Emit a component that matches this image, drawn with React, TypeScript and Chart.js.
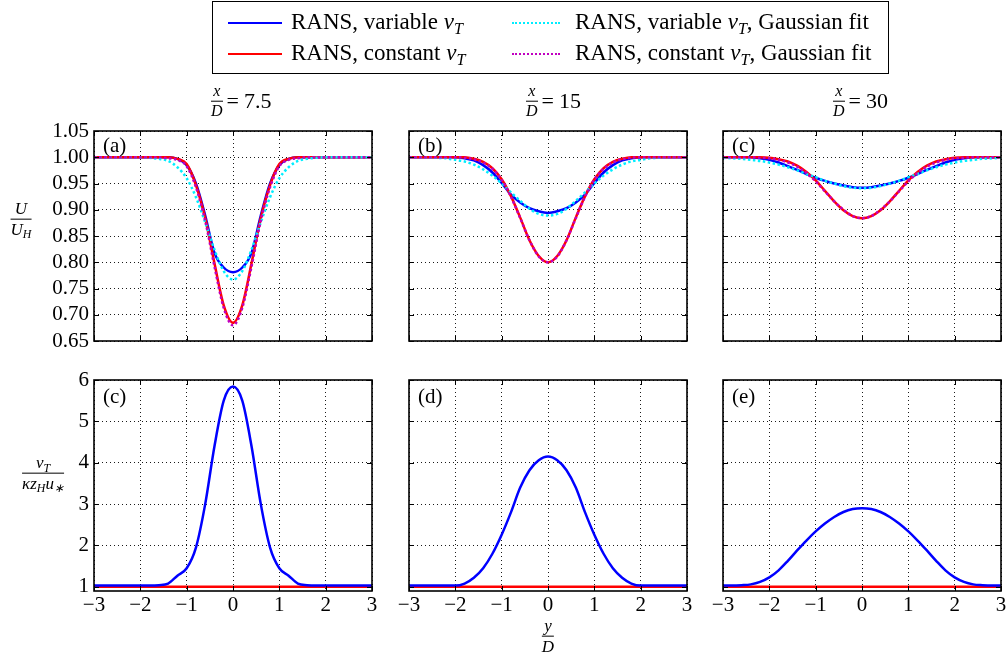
import React, { useEffect, useRef } from 'react';
import { Chart, registerables } from 'chart.js';

Chart.register(...registerables);

// ---------- data ----------
const Y_POS = [-3.0, -2.8, -2.6, -2.4, -2.2, -2.0, -1.8, -1.6, -1.4, -1.2, -1.0, -0.8, -0.6, -0.4, -0.2, 0.0,
  0.2, 0.4, 0.6, 0.8, 1.0, 1.2, 1.4, 1.6, 1.8, 2.0, 2.2, 2.4, 2.6, 2.8, 3.0];

const X_TICKS = [-3, -2, -1, 0, 1, 2, 3];
const U_TICKS = [0.65, 0.70, 0.75, 0.80, 0.85, 0.90, 0.95, 1.00, 1.05];
const NU_TICKS = [1, 2, 3, 4, 5, 6];

// x/D = 7.5
const U_VAR_75 = [1, 1, 1, 1, 1, 1, 1, 1, 1, 0.997, 0.985, 0.950, 0.889, 0.818, 0.790, 0.781, 0.790, 0.818, 0.889, 0.950, 0.985, 0.997, 1, 1, 1, 1, 1, 1, 1, 1, 1];
const U_CONST_75 = [1, 1, 1, 1, 1, 1, 1, 1, 1, 0.997, 0.987, 0.947, 0.884, 0.798, 0.718, 0.685, 0.718, 0.798, 0.884, 0.947, 0.987, 0.997, 1, 1, 1, 1, 1, 1, 1, 1, 1];
const U_VAR_FIT_75 = [1, 1, 1, 1, 1, 1, 0.999, 0.997, 0.993, 0.981, 0.960, 0.924, 0.876, 0.824, 0.783, 0.767, 0.783, 0.824, 0.876, 0.924, 0.960, 0.981, 0.993, 0.997, 0.999, 1, 1, 1, 1, 1, 1];
const U_CONST_FIT_75 = [1, 1, 1, 1, 1, 1, 1, 1, 0.998, 0.995, 0.983, 0.943, 0.879, 0.792, 0.713, 0.680, 0.713, 0.792, 0.879, 0.943, 0.983, 0.995, 0.998, 1, 1, 1, 1, 1, 1, 1, 1];

// x/D = 15
const U_VAR_15 = [1, 1, 1, 1, 1, 1, 0.998, 0.994, 0.985, 0.971, 0.951, 0.929, 0.914, 0.903, 0.897, 0.894, 0.897, 0.903, 0.914, 0.929, 0.951, 0.971, 0.985, 0.994, 0.998, 1, 1, 1, 1, 1, 1];
const U_CONST_15 = [1, 1, 1, 1, 1, 1, 1, 0.997, 0.991, 0.979, 0.958, 0.926, 0.885, 0.842, 0.812, 0.800, 0.812, 0.842, 0.885, 0.926, 0.958, 0.979, 0.991, 0.997, 1, 1, 1, 1, 1, 1, 1];
const U_VAR_FIT_15 = [1, 1, 1, 0.999, 0.998, 0.995, 0.992, 0.986, 0.977, 0.965, 0.950, 0.933, 0.917, 0.902, 0.892, 0.889, 0.892, 0.902, 0.917, 0.933, 0.950, 0.965, 0.977, 0.986, 0.992, 0.995, 0.998, 0.999, 1, 1, 1];
const U_CONST_FIT_15 = [1, 1, 1, 1, 1, 1, 0.999, 0.996, 0.990, 0.978, 0.957, 0.925, 0.884, 0.842, 0.811, 0.800, 0.811, 0.842, 0.884, 0.925, 0.957, 0.978, 0.990, 0.996, 0.999, 1, 1, 1, 1, 1, 1];

// x/D = 30
const U_VAR_30 = [1, 1, 1, 1, 0.998, 0.995, 0.990, 0.983, 0.976, 0.968, 0.961, 0.955, 0.950, 0.946, 0.943, 0.942, 0.943, 0.946, 0.950, 0.955, 0.961, 0.968, 0.976, 0.983, 0.990, 0.995, 0.998, 1, 1, 1, 1];
const U_CONST_30 = [1, 1, 1, 1, 1, 0.999, 0.996, 0.992, 0.984, 0.972, 0.956, 0.936, 0.916, 0.899, 0.888, 0.884, 0.888, 0.899, 0.916, 0.936, 0.956, 0.972, 0.984, 0.992, 0.996, 0.999, 1, 1, 1, 1, 1];
const U_VAR_FIT_30 = [0.999, 0.998, 0.997, 0.995, 0.993, 0.990, 0.986, 0.981, 0.975, 0.968, 0.962, 0.955, 0.950, 0.945, 0.942, 0.941, 0.942, 0.945, 0.950, 0.955, 0.962, 0.968, 0.975, 0.981, 0.986, 0.990, 0.993, 0.995, 0.997, 0.998, 0.999];
const U_CONST_FIT_30 = [1, 1, 1, 1, 0.999, 0.998, 0.995, 0.990, 0.982, 0.970, 0.954, 0.935, 0.916, 0.900, 0.888, 0.884, 0.888, 0.900, 0.916, 0.935, 0.954, 0.970, 0.982, 0.990, 0.995, 0.998, 0.999, 1, 1, 1, 1];

// eddy viscosity
const NU_VAR_75 = [1.03, 1.03, 1.03, 1.03, 1.03, 1.03, 1.03, 1.04, 1.08, 1.27, 1.45, 1.95, 3.00, 4.40, 5.50, 5.84, 5.50, 4.40, 3.00, 1.95, 1.45, 1.27, 1.08, 1.04, 1.03, 1.03, 1.03, 1.03, 1.03, 1.03, 1.03];
const NU_VAR_15 = [1.03, 1.03, 1.03, 1.03, 1.03, 1.03, 1.08, 1.22, 1.45, 1.80, 2.26, 2.80, 3.40, 3.82, 4.06, 4.15, 4.06, 3.82, 3.40, 2.80, 2.26, 1.80, 1.45, 1.22, 1.08, 1.03, 1.03, 1.03, 1.03, 1.03, 1.03];
const NU_VAR_30 = [1.03, 1.03, 1.04, 1.06, 1.12, 1.23, 1.40, 1.63, 1.88, 2.12, 2.34, 2.53, 2.69, 2.81, 2.88, 2.90, 2.88, 2.81, 2.69, 2.53, 2.34, 2.12, 1.88, 1.63, 1.40, 1.23, 1.12, 1.06, 1.04, 1.03, 1.03];
const NU_CONST = [1, 1, 1, 1, 1, 1, 1, 1, 1, 1, 1, 1, 1, 1, 1, 1, 1, 1, 1, 1, 1, 1, 1, 1, 1, 1, 1, 1, 1, 1, 1];

// ---------- styles ----------
const BLUE = '#0000ff';
const RED = '#ff0000';
const CYAN = '#00eeff';
const MAGENTA = '#c000c0';
const FONT = "'Liberation Serif', 'Times New Roman', serif";

type Series = { values: number[]; color: string; dash: number[]; order: number };

const framePlugin = {
  id: 'frame',
  afterDraw(chart: any) {
    const { ctx, chartArea: a, scales } = chart;
    const L = 5;
    ctx.save();
    ctx.setLineDash([]);
    ctx.strokeStyle = '#000';
    ctx.lineWidth = 1;
    ctx.beginPath();
    for (const t of scales.x.ticks) {
      const px = Math.round(scales.x.getPixelForValue(t.value)) + 0.5;
      ctx.moveTo(px, a.bottom);
      ctx.lineTo(px, a.bottom - L);
      ctx.moveTo(px, a.top);
      ctx.lineTo(px, a.top + L);
    }
    for (const t of scales.y.ticks) {
      const py = Math.round(scales.y.getPixelForValue(t.value)) + 0.5;
      ctx.moveTo(a.left, py);
      ctx.lineTo(a.left + L, py);
      ctx.moveTo(a.right, py);
      ctx.lineTo(a.right - L, py);
    }
    ctx.stroke();
    ctx.lineWidth = 1.6;
    ctx.strokeRect(a.left, a.top, a.right - a.left, a.bottom - a.top);
    ctx.restore();
  },
};

const fmtX = (v: number) => (v < 0 ? '\u2212' + Math.abs(v) : String(v));

type PanelProps = {
  plotLeft: number;
  plotTop: number;
  plotW: number;
  plotH: number;
  showY: boolean;
  showX: boolean;
  yMin: number;
  yMax: number;
  yTicks: number[];
  yFmt: (v: number) => string;
  series: Series[];
};

function Panel(p: PanelProps) {
  const ref = useRef<HTMLCanvasElement>(null);
  const PADL = 14, PADT = 20, PADR = 14, PADB = 20;
  const YW = p.showY ? 62 : 0;
  const XH = p.showX ? 30 : 0;
  const cw = PADL + YW + p.plotW + PADR;
  const chh = PADT + p.plotH + XH + PADB;

  useEffect(() => {
    if (!ref.current) return;
    const tickFont = { family: FONT, size: 21 };
    const chart = new Chart(ref.current, {
      type: 'line',
      data: {
        datasets: p.series.map((s) => ({
          data: Y_POS.map((x, i) => ({ x, y: s.values[i] })),
          borderColor: s.color,
          borderWidth: 2.5,
          borderDash: s.dash,
          pointRadius: 0,
          fill: false,
          cubicInterpolationMode: 'monotone' as const,
          order: s.order,
        })),
      },
      options: {
        responsive: false,
        animation: false,
        events: [],
        layout: { padding: { left: PADL, top: PADT, right: PADR, bottom: PADB } },
        plugins: { legend: { display: false }, tooltip: { enabled: false } },
        scales: {
          x: {
            type: 'linear',
            min: -3,
            max: 3,
            afterBuildTicks: (s: any) => {
              s.ticks = X_TICKS.map((v) => ({ value: v }));
            },
            afterFit: (s: any) => {
              s.height = XH;
            },
            ticks: {
              display: p.showX,
              padding: 2,
              autoSkip: false,
              maxRotation: 0,
              minRotation: 0,
              color: '#000',
              font: tickFont,
              callback: (v: any) => fmtX(Number(v)),
            },
            grid: { color: '#000', lineWidth: 0.9, drawTicks: false },
            border: { display: false, dash: [1, 3] },
          },
          y: {
            type: 'linear',
            min: p.yMin,
            max: p.yMax,
            afterBuildTicks: (s: any) => {
              s.ticks = p.yTicks.map((v) => ({ value: v }));
            },
            afterFit: (s: any) => {
              s.width = YW;
            },
            ticks: {
              display: p.showY,
              padding: 5,
              autoSkip: false,
              color: '#000',
              font: tickFont,
              callback: (v: any) => p.yFmt(Number(v)),
            },
            grid: { color: '#000', lineWidth: 0.9, drawTicks: false },
            border: { display: false, dash: [1, 3] },
          },
        },
      },
      plugins: [framePlugin],
    } as any);
    return () => chart.destroy();
  }, []);

  return (
    <canvas
      ref={ref}
      width={cw}
      height={chh}
      style={{
        position: 'absolute',
        left: p.plotLeft - PADL - YW,
        top: p.plotTop - PADT,
        width: cw,
        height: chh,
      }}
    />
  );
}

// ---------- math-ish text helpers ----------
const I = ({ children }: { children: React.ReactNode }) => <span style={{ fontStyle: 'italic' }}>{children}</span>;
const Sub = ({ children }: { children: React.ReactNode }) => (
  <span style={{ fontSize: '0.7em', position: 'relative', top: '0.3em', fontStyle: 'italic' }}>{children}</span>
);

function Frac({ num, den, size }: { num: React.ReactNode; den: React.ReactNode; size: number }) {
  return (
    <span
      style={{
        display: 'inline-flex',
        flexDirection: 'column',
        alignItems: 'stretch',
        fontSize: size,
        lineHeight: 1.05,
        textAlign: 'center',
      }}
    >
      <span style={{ borderBottom: '1.2px solid #000', padding: '0 1px 1px' }}>{num}</span>
      <span style={{ paddingTop: 1 }}>{den}</span>
    </span>
  );
}

function Centered({ x, y, children }: { x: number; y: number; children: React.ReactNode }) {
  return (
    <div style={{ position: 'absolute', left: x, top: y, transform: 'translate(-50%, -50%)', whiteSpace: 'nowrap' }}>
      {children}
    </div>
  );
}

function Title({ left, y, value }: { left: number; y: number; value: string }) {
  return (
    <div
      style={{
        position: 'absolute',
        left,
        top: y,
        transform: 'translateY(-50%)',
        display: 'flex',
        alignItems: 'center',
        whiteSpace: 'nowrap',
        fontSize: 22,
      }}
    >
      <Frac num={<I>x</I>} den={<I>D</I>} size={16} />
      <span style={{ marginLeft: 4 }}>=</span>
      <span style={{ marginLeft: 5 }}>{value}</span>
    </div>
  );
}

function LegendItem({ left, top, color, dashed, width, children }: any) {
  return (
    <div style={{ position: 'absolute', left, top, display: 'flex', alignItems: 'center', whiteSpace: 'nowrap', fontSize: 23, lineHeight: '26px' }}>
      <span
        style={{
          display: 'inline-block',
          width,
          height: 0,
          borderTop: `2.5px ${dashed ? 'dotted' : 'solid'} ${color}`,
        }}
      />
      <span style={{ marginLeft: dashed ? 15 : 9 }}>{children}</span>
    </div>
  );
}

const nuT = (
  <>
    <I>ν</I>
    <Sub>T</Sub>
  </>
);

export default function App() {
  const COLS = [94, 409, 723];
  const TOP_Y = 131;
  const BOT_Y = 380;
  const W = 278;
  const uFmt = (v: number) => v.toFixed(2);
  const nFmt = (v: number) => String(v);

  const topSeries = [
    [U_VAR_75, U_CONST_75, U_VAR_FIT_75, U_CONST_FIT_75],
    [U_VAR_15, U_CONST_15, U_VAR_FIT_15, U_CONST_FIT_15],
    [U_VAR_30, U_CONST_30, U_VAR_FIT_30, U_CONST_FIT_30],
  ];
  const botSeries = [NU_VAR_75, NU_VAR_15, NU_VAR_30];
  const topLetters = ['(a)', '(b)', '(c)'];
  const botLetters = ['(c)', '(d)', '(e)'];
  const titles = [
    { left: 211, value: '7.5' },
    { left: 526, value: '15' },
    { left: 833, value: '30' },
  ];

  return (
    <div
      style={{
        position: 'absolute',
        left: 0,
        top: 0,
        width: 1008,
        height: 663,
        background: '#fff',
        fontFamily: FONT,
        color: '#000',
        overflow: 'hidden',
      }}
    >
      {COLS.map((cx, i) => (
        <Panel
          key={'t' + i}
          plotLeft={cx}
          plotTop={TOP_Y}
          plotW={W}
          plotH={210}
          showY={i === 0}
          showX={false}
          yMin={0.65}
          yMax={1.05}
          yTicks={U_TICKS}
          yFmt={uFmt}
          series={[
            { values: topSeries[i][0], color: BLUE, dash: [], order: 4 },
            { values: topSeries[i][1], color: RED, dash: [], order: 3 },
            { values: topSeries[i][2], color: CYAN, dash: [2.5, 2.5], order: 2 },
            { values: topSeries[i][3], color: MAGENTA, dash: [2.5, 2.5], order: 1 },
          ]}
        />
      ))}
      {COLS.map((cx, i) => (
        <Panel
          key={'b' + i}
          plotLeft={cx}
          plotTop={BOT_Y}
          plotW={W}
          plotH={211}
          showY={i === 0}
          showX={true}
          yMin={0.9}
          yMax={6}
          yTicks={NU_TICKS}
          yFmt={nFmt}
          series={[
            { values: NU_CONST, color: RED, dash: [], order: 2 },
            { values: botSeries[i], color: BLUE, dash: [], order: 1 },
          ]}
        />
      ))}

      {COLS.map((cx, i) => (
        <div key={'lt' + i} style={{ position: 'absolute', left: cx + 9, top: TOP_Y + 3, fontSize: 21, lineHeight: '23px' }}>
          {topLetters[i]}
        </div>
      ))}
      {COLS.map((cx, i) => (
        <div key={'lb' + i} style={{ position: 'absolute', left: cx + 9, top: BOT_Y + 5, fontSize: 21, lineHeight: '23px' }}>
          {botLetters[i]}
        </div>
      ))}

      {titles.map((t, i) => (
        <Title key={'ti' + i} left={t.left} y={101} value={t.value} />
      ))}

      <Centered x={21} y={219}>
        <Frac num={<I>U</I>} den={<><I>U</I><Sub>H</Sub></>} size={17} />
      </Centered>
      <Centered x={43} y={473}>
        <Frac
          num={nuT}
          den={
            <>
              <I>κz</I>
              <Sub>H</Sub>
              <I>u</I>
              <Sub>∗</Sub>
            </>
          }
          size={17}
        />
      </Centered>
      <Centered x={548} y={636}>
        <Frac num={<I>y</I>} den={<I>D</I>} size={17} />
      </Centered>

      <div
        style={{
          position: 'absolute',
          left: 212,
          top: 1,
          width: 675,
          height: 71,
          border: '1px solid #000',
          background: '#fff',
        }}
      >
        <LegendItem left={15} top={7} color={BLUE} width={54}>
          RANS, variable {nuT}
        </LegendItem>
        <LegendItem left={15} top={38} color={RED} width={54}>
          RANS, constant {nuT}
        </LegendItem>
        <LegendItem left={299} top={7} color={CYAN} dashed width={48}>
          RANS, variable {nuT}, Gaussian fit
        </LegendItem>
        <LegendItem left={299} top={38} color={MAGENTA} dashed width={48}>
          RANS, constant {nuT}, Gaussian fit
        </LegendItem>
      </div>
    </div>
  );
}
